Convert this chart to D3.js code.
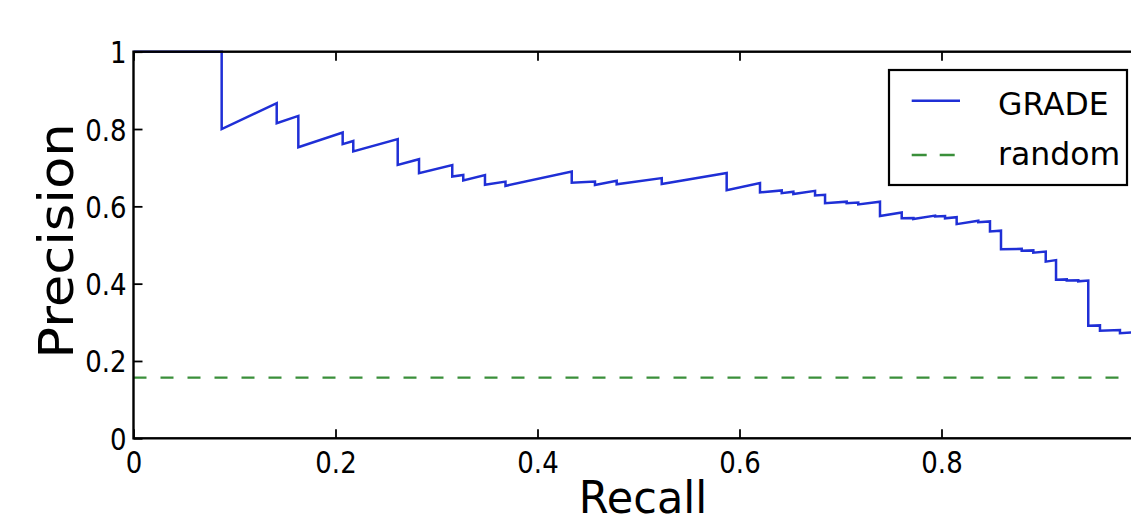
<!DOCTYPE html>
<html>
<head>
<meta charset="utf-8">
<script src="https://cdn.jsdelivr.net/npm/d3@7"></script>
<style>
  body { margin: 0; background: #fff; }
  text { font-family: "DejaVu Sans", sans-serif; fill: #000; }
</style>
</head>
<body>
<div id="chart"></div>
<script>

// precision-recall curve of GRADE, vertices of the step line
var recall = [0, 0.0873, 0.0873, 0.1418, 0.1418, 0.1632, 0.1632, 0.2071, 0.2071, 0.2176,
  0.2176, 0.2616, 0.2616, 0.2827, 0.2827, 0.3156, 0.3156, 0.3265, 0.3265, 0.348,
  0.348, 0.3683, 0.3683, 0.4339, 0.4339, 0.4569, 0.4569, 0.4784, 0.4784, 0.5230,
  0.5230, 0.5873, 0.5873, 0.6203, 0.6203, 0.6418, 0.6418, 0.6533, 0.6533, 0.6748,
  0.6748, 0.6847, 0.6847, 0.7061, 0.7061, 0.7176, 0.7176, 0.7391, 0.7391, 0.7606,
  0.7606, 0.7721, 0.7721, 0.7936, 0.7936, 0.8035, 0.8035, 0.8150, 0.8150, 0.8364,
  0.8364, 0.8480, 0.8480, 0.8589, 0.8589, 0.8794, 0.8794, 0.8909, 0.8909, 0.9032,
  0.9032, 0.9134, 0.9134, 0.9240, 0.9240, 0.9354, 0.9354, 0.9453, 0.9453, 0.9569,
  0.9569, 0.9767, 0.9767, 1.0];
var precision = [1.0, 1.0, 0.800, 0.867, 0.815, 0.834, 0.753, 0.791, 0.761, 0.769,
  0.742, 0.774, 0.707, 0.722, 0.686, 0.707, 0.677, 0.681, 0.667, 0.681,
  0.656, 0.664, 0.653, 0.690, 0.661, 0.664, 0.655, 0.666, 0.657, 0.673,
  0.658, 0.686, 0.642, 0.660, 0.636, 0.641, 0.634, 0.638, 0.632, 0.640,
  0.628, 0.630, 0.608, 0.612, 0.608, 0.610, 0.605, 0.612, 0.575, 0.584,
  0.569, 0.570, 0.567, 0.576, 0.574, 0.575, 0.569, 0.572, 0.554, 0.563,
  0.559, 0.561, 0.535, 0.537, 0.489, 0.490, 0.485, 0.486, 0.480, 0.483,
  0.457, 0.461, 0.410, 0.411, 0.408, 0.409, 0.406, 0.408, 0.291, 0.292,
  0.278, 0.280, 0.272, 0.275];

// random baseline precision
var randomPrecision = [0.157, 0.157];
var randomRecall = [0, 1];

var xTicks = [0, 0.2, 0.4, 0.6, 0.8, 1];
var yTicks = [0, 0.2, 0.4, 0.6, 0.8, 1];
var tickLabels = ["0", "0.2", "0.4", "0.6", "0.8", "1"];
var seriesNames = ["GRADE", "random"];

var blue = "#1f2fd6";
var green = "#3a8f3a";

// sizes
var margin = {top: 51.7, left: 133.5};
var width = 1010;
var height = 386.6;
var pageWidth = 1131;

var svg = d3.select("#chart")
            .append("svg")
              .attr("width", pageWidth)
              .attr("height", 524)
            .append("g")
              .attr("transform", "translate(" + margin.left + "," + margin.top + ")");

var x = d3.scaleLinear().domain([0, 1]).range([0, width]);
var y = d3.scaleLinear().domain([0, 1]).range([height, 0]);

var line = d3.line()
             .x(function(d) { return x(d[0]); })
             .y(function(d) { return y(d[1]); });

// random line
svg.append("path")
   .datum(randomRecall.map(function(r, i) { return [r, randomPrecision[i]]; }))
   .attr("d", line)
   .attr("fill", "none")
   .attr("stroke", green)
   .attr("stroke-width", 2.4)
   .attr("stroke-dasharray", "13,14");

// GRADE curve
svg.append("path")
   .datum(recall.map(function(r, i) { return [r, precision[i]]; }))
   .attr("d", line)
   .attr("fill", "none")
   .attr("stroke", blue)
   .attr("stroke-width", 2.5);

// axes with inward ticks
function styleAxis(g) {
  g.select(".domain").remove();
  g.selectAll(".tick line").attr("stroke", "#000").attr("stroke-width", 1.8);
  g.selectAll("text").style("font-size", "26px").attr("fill", "#000");
}

var xAxis = svg.append("g")
   .attr("transform", "translate(0," + height + ")")
   .call(d3.axisBottom(x).tickValues(xTicks)
           .tickFormat(function(d, i) { return tickLabels[i]; })
           .tickSizeInner(-9).tickSizeOuter(0))
   .call(styleAxis);

xAxis.selectAll("text")
     .attr("y", null).attr("dy", null)
     .attr("transform", "translate(0,35) scale(1,1.16)");

// label of the last tick lies outside the page
xAxis.selectAll(".tick")
     .filter(function(d) { return x(d) + margin.left > pageWidth; })
     .select("text").remove();

svg.append("g")
   .call(d3.axisLeft(y).tickValues(yTicks)
           .tickFormat(function(d, i) { return tickLabels[i]; })
           .tickSizeInner(-9).tickSizeOuter(0))
   .call(styleAxis)
   .selectAll("text")
     .attr("x", null).attr("dy", null)
     .attr("transform", "translate(-7,11) scale(1,1.16)");

svg.append("g")
   .call(d3.axisTop(x).tickValues(xTicks).tickFormat("")
           .tickSizeInner(-9).tickSizeOuter(0))
   .call(styleAxis);

svg.append("g")
   .attr("transform", "translate(" + width + ",0)")
   .call(d3.axisRight(y).tickValues(yTicks).tickFormat("")
           .tickSizeInner(-9).tickSizeOuter(0))
   .call(styleAxis);

// frame on top of the lines
svg.append("rect")
   .attr("width", width)
   .attr("height", height)
   .attr("fill", "none")
   .attr("stroke", "#000")
   .attr("stroke-width", 2.4);

// axis titles
svg.append("text")
   .attr("text-anchor", "middle")
   .attr("transform", "translate(" + (643 - margin.left) + "," + (513 - margin.top) + ") scale(1,1.04)")
   .style("font-size", "43px")
   .text("Recall");

svg.append("text")
   .attr("text-anchor", "middle")
   .attr("transform", "translate(" + (73 - margin.left) + "," + (241 - margin.top) + ") scale(1,1.1) rotate(-90)")
   .style("font-size", "48px")
   .text("Precision");

// legend
var legend = svg.append("g")
                .attr("transform", "translate(" + (889 - margin.left) + "," + (70 - margin.top) + ")");

legend.append("rect")
      .attr("width", 238)
      .attr("height", 115)
      .attr("fill", "#fff")
      .attr("stroke", "#000")
      .attr("stroke-width", 2.2);

var legendColors = [blue, green];
var legendDash = [null, "15,13"];

seriesNames.forEach(function(name, i) {
  legend.append("line")
        .attr("x1", 22.7).attr("x2", 71)
        .attr("y1", 30.7 + i * 54.3).attr("y2", 30.7 + i * 54.3)
        .attr("stroke", legendColors[i])
        .attr("stroke-width", 2.5)
        .attr("stroke-dasharray", legendDash[i]);
  legend.append("text")
        .attr("x", 109)
        .attr("y", 45 + i * 50)
        .style("font-size", "31.5px")
        .text(name);
});

</script>
</body>
</html>
